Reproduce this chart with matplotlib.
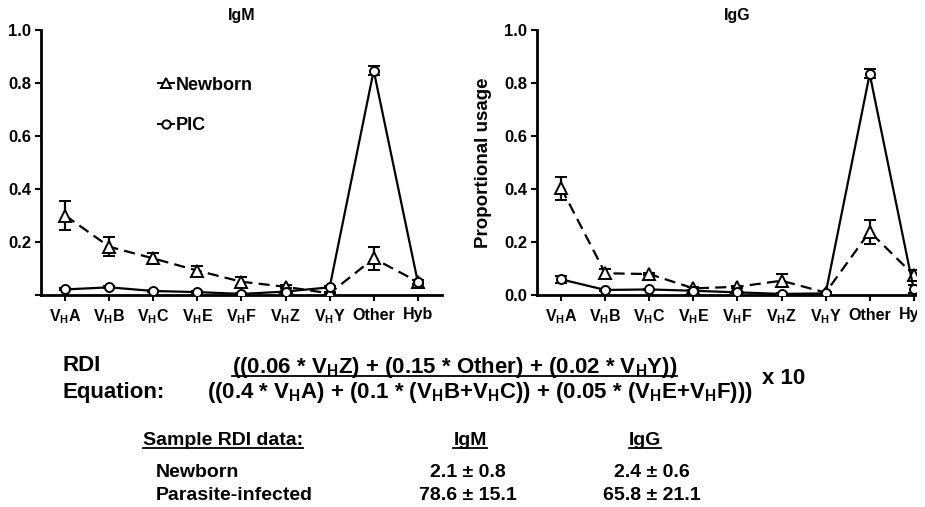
import matplotlib
matplotlib.use("Agg")
import matplotlib.pyplot as plt
from matplotlib.lines import Line2D
from matplotlib.patches import Rectangle

plt.rcParams['font.family'] = ['Liberation Sans', 'DejaVu Sans']
plt.rcParams['font.weight'] = 'bold'
plt.rcParams['mathtext.fontset'] = 'custom'
plt.rcParams['mathtext.rm'] = 'Liberation Sans:bold'
plt.rcParams['mathtext.bf'] = 'Liberation Sans:bold'
plt.rcParams['mathtext.it'] = 'Liberation Sans:bold'
plt.rcParams['mathtext.default'] = 'bf'

categories = ["V$_H$A", "V$_H$B", "V$_H$C", "V$_H$E", "V$_H$F", "V$_H$Z", "V$_H$Y", "Other", "Hyb"]

# IgM panel
igm_newborn = [0.30, 0.182, 0.138, 0.092, 0.050, 0.031, 0.006, 0.138, 0.050]
igm_newborn_err = [0.053, 0.035, 0.019, 0.016, 0.017, 0.006, 0.004, 0.042, 0.008]
igm_pic = [0.021, 0.029, 0.015, 0.011, 0.004, 0.013, 0.029, 0.847, 0.050]
igm_pic_err = [0.004, 0.004, 0.003, 0.003, 0.002, 0.003, 0.004, 0.018, 0.008]

# IgG panel
igg_newborn = [0.403, 0.082, 0.079, 0.025, 0.031, 0.054, 0.009, 0.239, 0.075]
igg_newborn_err = [0.044, 0.017, 0.004, 0.005, 0.004, 0.024, 0.004, 0.045, 0.020]
igg_pic = [0.059, 0.019, 0.021, 0.016, 0.010, 0.004, 0.006, 0.834, 0.021]
igg_pic_err = [0.012, 0.003, 0.003, 0.003, 0.002, 0.002, 0.002, 0.017, 0.015]

rdi_groups = ["Newborn", "Parasite-infected"]
rdi_igm = ["2.1 ± 0.8", "78.6 ± 15.1"]
rdi_igg = ["2.4 ± 0.6", "65.8 ± 21.1"]

W, H = 925, 507
fig = plt.figure(figsize=(W / 100, H / 100), dpi=100)


def px(x, y):
    return x / W, 1 - y / H


def draw_panel(ax, title, newborn, newborn_err, pic, pic_err, zero_label):
    x = list(range(len(categories)))
    ax.errorbar(x, newborn, yerr=newborn_err, color='black', ls=(0, (5, 2.8)), lw=1.6,
                marker='^', ms=8, mfc='white', mec='black', mew=1.4,
                capsize=4.5, capthick=1.6, elinewidth=1.6, zorder=3)
    ax.errorbar(x, pic, yerr=pic_err, color='black', ls='-', lw=1.6,
                marker='o', ms=6.5, mfc='white', mec='black', mew=1.4,
                capsize=4.5, capthick=1.6, elinewidth=1.6, zorder=4)
    ax.set_xlim(-0.55, 8.55)
    ax.set_ylim(0, 1.0)
    ax.set_xticks(x)
    ax.set_xticklabels(categories, fontsize=11.5, fontweight='bold')
    ticks = [0.0, 0.2, 0.4, 0.6, 0.8, 1.0]
    ax.set_yticks(ticks)
    labels = ["%.1f" % t for t in ticks]
    if not zero_label:
        labels[0] = ""
    ax.set_yticklabels(labels, fontsize=12, fontweight='bold')
    ax.tick_params(direction='out', length=4, width=1.5, pad=3)
    ax.tick_params(axis='x', pad=5)
    for s in ['top', 'right']:
        ax.spines[s].set_visible(False)
    for s in ['left', 'bottom']:
        ax.spines[s].set_linewidth(2)
    ax.set_title(title, fontsize=11.5, fontweight='bold', pad=7)


ax1 = fig.add_axes([41 / W, 1 - 295 / H, 401 / W, 265 / H])
draw_panel(ax1, "IgM", igm_newborn, igm_newborn_err, igm_pic, igm_pic_err, False)
handles = [Line2D([], [], color='black', lw=1.4, marker='^', ms=7, mfc='white', mew=1.4),
           Line2D([], [], color='black', lw=1.4, marker='o', ms=6, mfc='white', mew=1.4)]
ax1.legend(handles, ["Newborn", "PIC"], loc='upper left', bbox_to_anchor=(0.25, 0.885),
           frameon=False, handlelength=0.9, handletextpad=0.1, labelspacing=1.3,
           prop={'size': 13, 'weight': 'bold'})

ax2 = fig.add_axes([537 / W, 1 - 295 / H, 401 / W, 265 / H])
draw_panel(ax2, "IgG", igg_newborn, igg_newborn_err, igg_pic, igg_pic_err, True)
ax2.set_ylabel("Proportional usage", fontsize=13.5, fontweight='bold', labelpad=9)

# the source image is cropped just right of the last category
fig.add_artist(Rectangle((917 / W, 0), 1 - 917 / W, 1, transform=fig.transFigure,
                         facecolor='white', edgecolor='none', zorder=10))

# RDI equation
fs = 16
fig.text(*px(63, 371), "RDI", fontsize=fs, fontweight='bold', va='baseline', ha='left')
fig.text(*px(63, 398), "Equation:", fontsize=fs, fontweight='bold', va='baseline', ha='left')
num = fig.text(*px(232, 373), "((0.06 * V$_H$Z) + (0.15 * Other) + (0.02 * V$_H$Y))",
               fontsize=fs, fontweight='bold', va='baseline', ha='left')
fig.text(*px(207, 398), "((0.4 * V$_H$A) + (0.1 * (V$_H$B+V$_H$C)) + (0.05 * (V$_H$E+V$_H$F)))",
         fontsize=fs, fontweight='bold', va='baseline', ha='left')
fig.text(*px(762, 384), "x 10", fontsize=fs, fontweight='bold', va='baseline', ha='left')

# sample table
tfs = 14
head = [fig.text(*px(143, 445), "Sample RDI data:", fontsize=tfs, fontweight='bold', va='baseline', ha='left'),
        fig.text(*px(470, 445), "IgM", fontsize=tfs, fontweight='bold', va='baseline', ha='center'),
        fig.text(*px(645, 445), "IgG", fontsize=tfs, fontweight='bold', va='baseline', ha='center')]
rows_y = [477, 500]
for i, g in enumerate(rdi_groups):
    fig.text(*px(156, rows_y[i]), g, fontsize=tfs, fontweight='bold', va='baseline', ha='left')
    fig.text(*px(468, rows_y[i]), rdi_igm[i], fontsize=tfs, fontweight='bold', va='baseline', ha='center')
    fig.text(*px(652, rows_y[i]), rdi_igg[i], fontsize=tfs, fontweight='bold', va='baseline', ha='center')

# underlines just below the baseline
fig.canvas.draw()
r = fig.canvas.get_renderer()
for t, base in [(num, 373)] + [(h, 445) for h in head]:
    bb = t.get_window_extent(r)
    y = 1 - (base + 3) / H
    fig.add_artist(Line2D([bb.x0 / W, bb.x1 / W], [y, y], color='black', lw=1.3,
                          transform=fig.transFigure))

fig.savefig("out.png", dpi=100)
